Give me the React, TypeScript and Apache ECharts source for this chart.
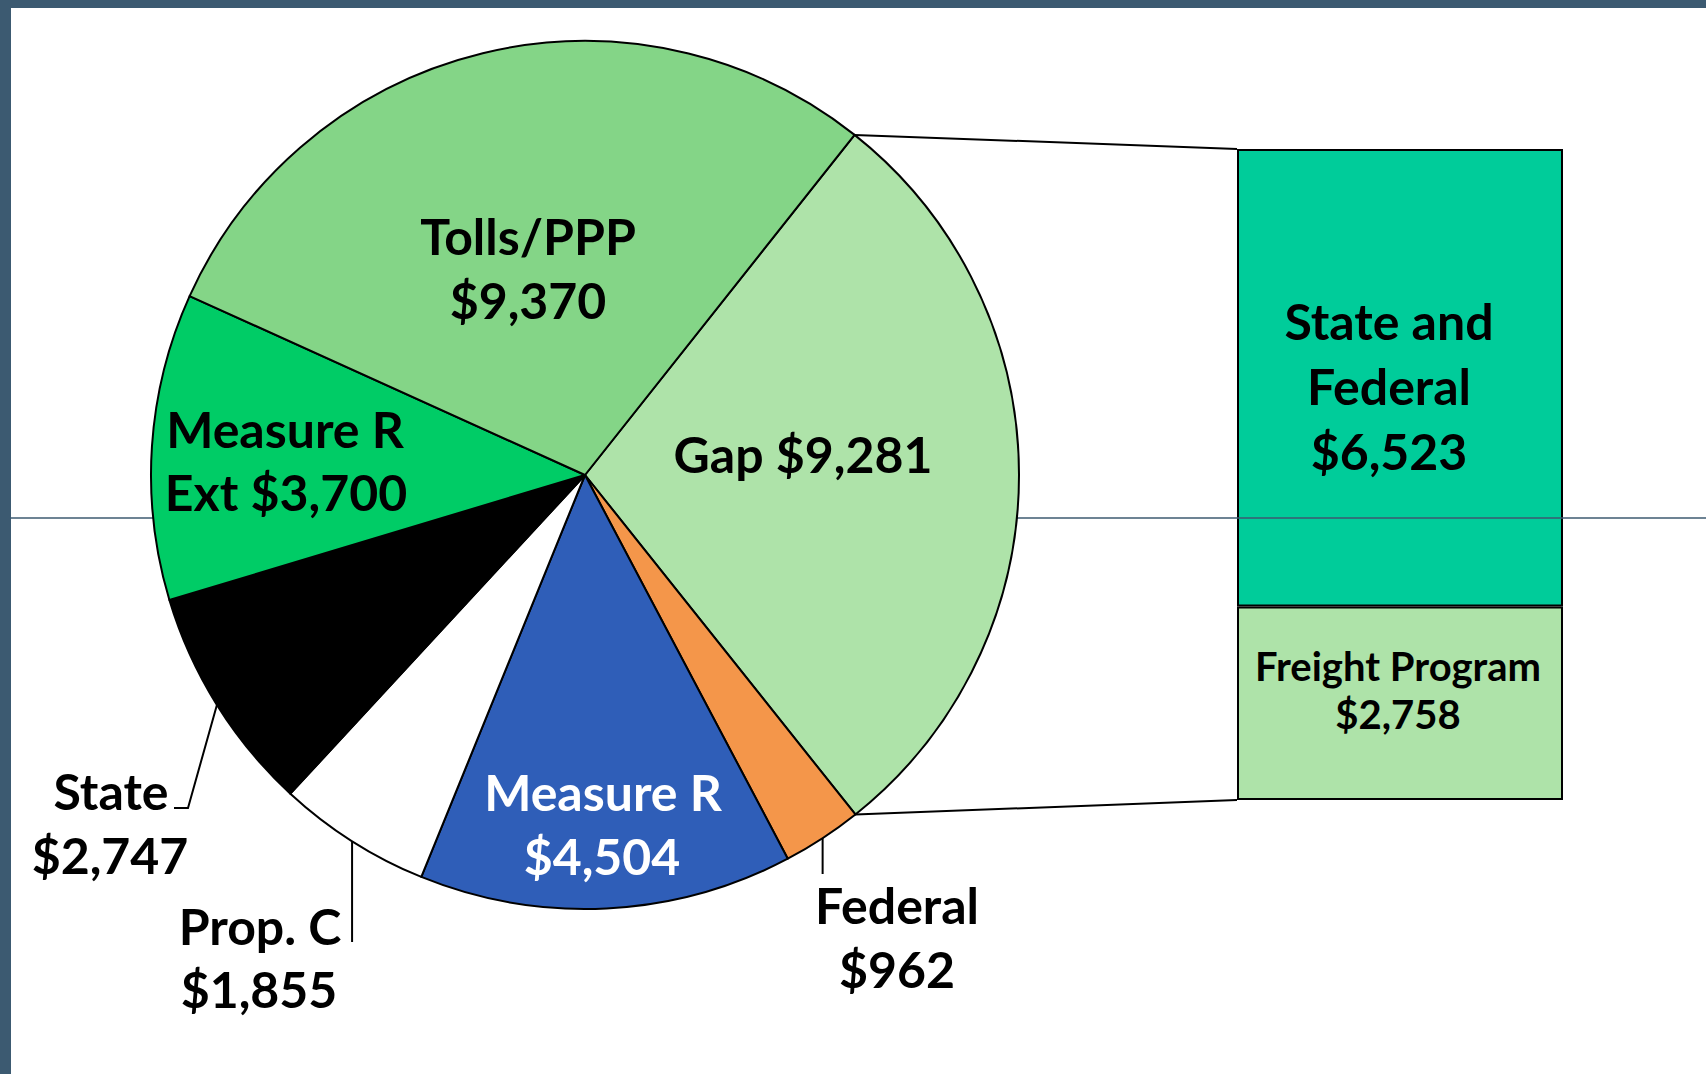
import React, { useEffect, useRef } from "react";
import * as echarts from "echarts";

const pieNames = ["Gap", "Federal", "Measure R", "Prop. C", "State", "Measure R Ext", "Tolls/PPP"];
const pieValues = [9281, 962, 4504, 1855, 2747, 3700, 9370];
const pieColors = ["#aee3a9", "#f4964a", "#2f5eb8", "#ffffff", "#000000", "#00cc66", "#84d587"];

const boxNames = ["Freight Program", "State and Federal"];
const boxValues = [2758, 6523];
const boxColors = ["#aee3a9", "#00cc9a"];

const FONT = "Lato, 'Open Sans', sans-serif";
const money = (v: number) => "$" + v.toLocaleString("en-US");

export default function App() {
  const ref = useRef<HTMLDivElement>(null);
  useEffect(() => {
    document.body.style.margin = "0";
    const chart = echarts.init(ref.current!, null, { renderer: "svg" });

    const cx = 585, cy = 475, r = 434, start = 51.6;
    const total = pieValues.reduce((a, b) => a + b, 0);
    const angles: number[] = [];
    let acc = start;
    pieValues.forEach((v) => {
      angles.push(acc);
      acc -= (v / total) * 360;
    });
    angles.push(acc);
    const pt = (deg: number, rr = r) => [
      cx + rr * Math.cos((deg * Math.PI) / 180),
      cy - rr * Math.sin((deg * Math.PI) / 180),
    ];
    const mid = (i: number) => (angles[i] + angles[i + 1]) / 2;

    const gL = 1237, gT = 149, gW = 326, gH = 651;
    const gapTop = pt(angles[0]);
    const gapBot = pt(angles[1]);

    const txt = (x: number, y: number, s: string, size = 50, fill = "#000", align = "center") => ({
      type: "text",
      x,
      y,
      z: 20,
      style: {
        text: s,
        fill,
        font: `bold ${size}px ${FONT}`,
        textAlign: align,
        textVerticalAlign: "middle",
      },
    });
    const line = (pts: number[][], color = "#000", w = 2, z = 20) => ({
      type: "polyline",
      z,
      shape: { points: pts },
      style: { stroke: color, lineWidth: w, fill: null },
    });

    const fedMid = pt(mid(1));
    const propMid = pt(mid(3));
    const stateMid = pt(mid(4));

    chart.setOption({
      animation: false,
      grid: { left: gL, top: gT, width: gW, height: gH },
      xAxis: { type: "category", data: ["box"], show: false },
      yAxis: { type: "value", min: 0, max: pieValues[0], show: false },
      series: [
        ...boxNames.map((n, i) => ({
          type: "bar",
          name: n,
          stack: "box",
          z: 1,
          barWidth: "100%",
          data: [boxValues[i]],
          silent: true,
          itemStyle: { color: boxColors[i], borderColor: "#000", borderWidth: 2 },
          label: {
            show: true,
            position: "inside",
            color: "#000",
            fontFamily: FONT,
            fontWeight: "bold",
            fontSize: i === 0 ? 40 : 50,
            lineHeight: i === 0 ? 48 : 65,
            offset: i === 0 ? [-2, -13] : [-11, 8],
            formatter: () =>
              i === 0 ? `${n}\n${money(boxValues[i])}` : `State and\nFederal\n${money(boxValues[i])}`,
          },
        })),
        {
          type: "pie",
          z: 5,
          center: [cx, cy],
          radius: r,
          startAngle: start,
          clockwise: true,
          silent: true,
          label: { show: false },
          labelLine: { show: false },
          itemStyle: { borderColor: "#000", borderWidth: 2 },
          data: pieNames.map((n, i) => ({ name: n, value: pieValues[i], itemStyle: { color: pieColors[i] } })),
        },
      ],
      graphic: [
        line([[11, 518], [1706, 518]], "#3c5a71", 1.5, 2),
        line([gapTop, [gL, gT]]),
        line([gapBot, [gL, gT + gH]]),
        {
          type: "rect",
          z: 30,
          shape: { x: 0, y: 0, width: 1706, height: 8 },
          style: { fill: "#3c5a71" },
        },
        {
          type: "rect",
          z: 30,
          shape: { x: 0, y: 0, width: 11, height: 1074 },
          style: { fill: "#3c5a71" },
        },
        txt(528, 236, pieNames[6]),
        txt(528, 300, money(pieValues[6])),
        txt(285, 429, "Measure R"),
        txt(286, 492, "Ext " + money(pieValues[5])),
        txt(803, 454, `${pieNames[0]} ${money(pieValues[0])}`),
        txt(603, 792, pieNames[2], 50, "#fff"),
        txt(602, 856, money(pieValues[2]), 50, "#fff"),
        txt(111, 791, pieNames[4]),
        txt(110, 855, money(pieValues[4])),
        txt(260, 926, pieNames[3]),
        txt(259, 989, money(pieValues[3])),
        txt(897, 905, pieNames[1]),
        txt(897, 969, money(pieValues[1])),
        line([stateMid, [188, 808], [174, 808]]),
        line([propMid, [propMid[0], 942]]),
        line([fedMid, [fedMid[0], 874]]),
      ],
    });
    return () => chart.dispose();
  }, []);
  return <div ref={ref} style={{ width: 1706, height: 1074, background: "#fff" }} />;
}
